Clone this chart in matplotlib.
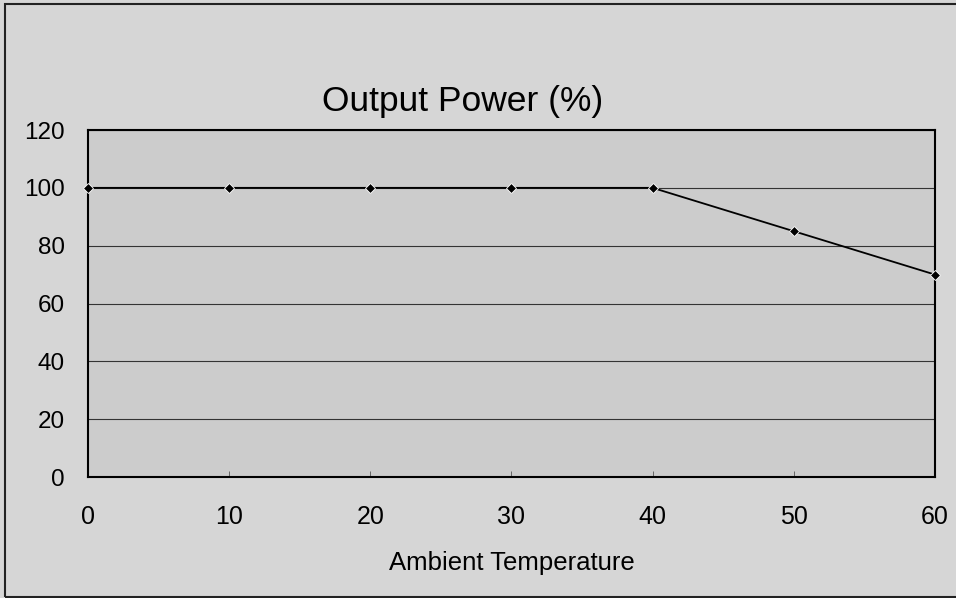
import matplotlib
matplotlib.use('Agg')
import matplotlib.pyplot as plt
from matplotlib.patches import Rectangle

# Datos
temperatura = [0, 10, 20, 30, 40, 50, 60]
potencia = [100, 100, 100, 100, 100, 85, 70]
ticks_y = [0, 20, 40, 60, 80, 100, 120]

plt.rcParams['font.family'] = ['Liberation Sans', 'DejaVu Sans']

fig = plt.figure(figsize=(9.56, 5.98), dpi=100)
fig.patch.set_facecolor('#d6d6d6')

# Marco exterior
fig.patches.append(Rectangle((0.005, 0.002), 1.2, 0.991, transform=fig.transFigure,
                             fill=False, edgecolor='#222222', linewidth=1.5))

ax = fig.add_axes([0.092, 0.2023, 0.886, 0.5803])
ax.set_facecolor('#cccccc')

ax.plot(temperatura, potencia, color='black', linewidth=1.3,
        marker='D', markersize=5.5, markerfacecolor='black',
        markeredgecolor='white', markeredgewidth=0.6, clip_on=False, zorder=3)

ax.set_xlim(0, 60)
ax.set_ylim(0, 120)
ax.set_yticks(ticks_y)
ax.set_xticks(temperatura)
ax.yaxis.grid(True, color='#333333', linewidth=0.8)
ax.set_axisbelow(True)

for lado in ax.spines.values():
    lado.set_color('black')
    lado.set_linewidth(1.5)

ax.tick_params(axis='y', length=0, pad=16.5, labelsize=17.5)
ax.tick_params(axis='x', direction='in', length=4, width=0.6, color='#555555',
               pad=20, labelsize=18)

# El titulo esta corrido a la izquierda en el original
ax.set_title('Output Power (%)', fontsize=25.5, pad=14, x=0.442)
ax.set_xlabel('Ambient Temperature', fontsize=18.5, labelpad=16)

fig.savefig('out.png', dpi=100, facecolor=fig.get_facecolor())
